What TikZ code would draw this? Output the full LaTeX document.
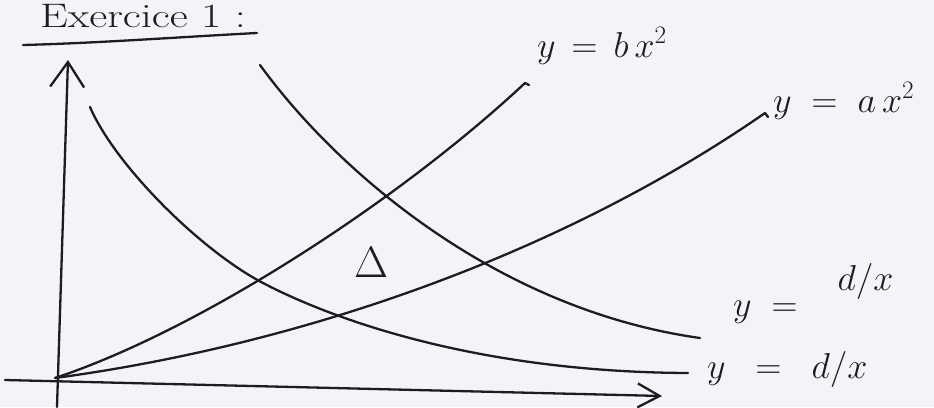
\RequirePackage{fix-cm}
\documentclass[tikz,border=0pt]{standalone}
\usetikzlibrary{arrows.meta}
\definecolor{paper}{RGB}{243,244,249}
\definecolor{ink}{RGB}{30,28,30}
\begin{document}
\begin{tikzpicture}[x=1pt,y=-1pt,
  pen/.style={draw=ink, line width=2.3pt, line cap=round, line join=round},
  lbl/.style={text=ink, font=\fontsize{36}{42}\selectfont, inner sep=0pt, anchor=base west}]
\useasboundingbox (0,0) rectangle (934,407);
\fill[paper] (0,0) rectangle (934,407);
% title
\node[text=ink, anchor=base west, inner sep=0pt, font=\fontsize{34}{40}\selectfont] (title) at (40,27) {\scalebox{1.3}[1]{Exercice 1 :}};
\coordinate (u1) at (23,45);
\coordinate (u2) at (257,33);
\draw[pen] (u1) .. controls (100,43) and (180,37) .. (u2);
% axes
\coordinate (xs) at (5,380);
\coordinate (xe) at (662,396);
\draw[pen, -{Straight Barb[length=22pt,width=24pt]}] (xs) -- (xe);
\coordinate (ys) at (57,407);
\coordinate (ye) at (68,60);
\draw[pen, -{Straight Barb[length=25pt,width=34pt]}] (ys) -- (ye);
% curves
\coordinate (o) at (55,378);
\coordinate (bend) at (525,83);
\coordinate (aend) at (765,113);
\coordinate (cs) at (260,65);
\coordinate (ce) at (700,338);
\coordinate (ds) at (90,107);
\coordinate (dm) at (263,283);
\coordinate (de) at (688,373);
\draw[pen] (o) .. controls (200,330) and (400,200) .. (bend) -- ++(4,2);
\draw[pen] (o) .. controls (300,345) and (560,255) .. (aend) -- ++(3,4);
\draw[pen] (cs) .. controls (340,175) and (500,310) .. (ce);
\draw[pen] (ds) .. controls (115,165) and (200,250) .. (dm) .. controls (326,316) and (470,372) .. (de);
% labels
\node[lbl] (lb) at (537,57) {$y\,=\,b\,x^{2}$};
\node[lbl] (la) at (773,112) {$y\;=\;a\,x^{2}$};
\node[lbl] (lc) at (733,316) {$y\;=\;\;\;\raisebox{26pt}{$d/x$}$};
\node[lbl] (ld) at (707,378) {$y\;\;=\;\;d/x$};
\node[text=ink, inner sep=0pt, font=\fontsize{44}{50}\selectfont] (delta) at (371,262) {$\Delta$};
\end{tikzpicture}
\end{document}
